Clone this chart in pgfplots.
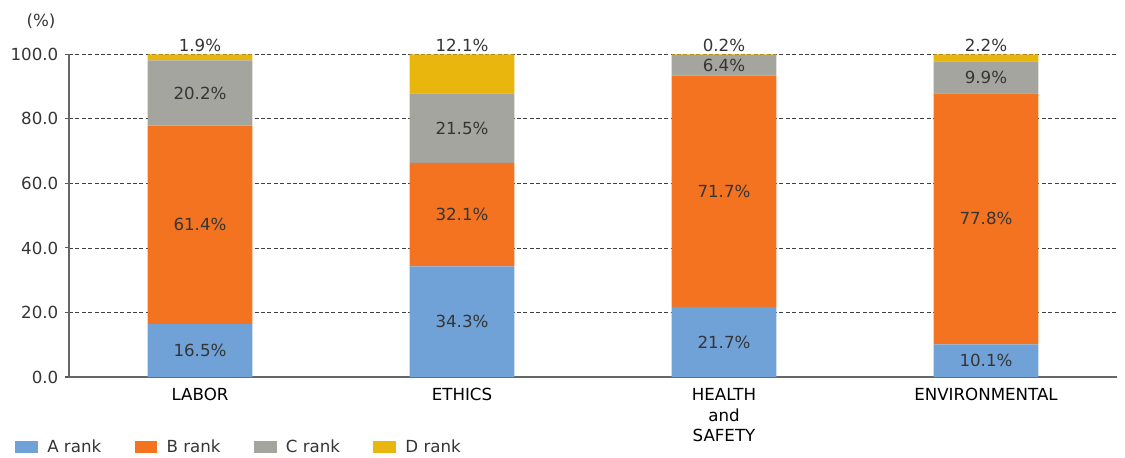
\documentclass[border=0pt]{standalone}
\usepackage{pgfplots}
\pgfplotsset{compat=1.18}
\usepackage{fontspec}
\setmainfont{DejaVu Sans}
\definecolor{cA}{HTML}{70A2D8}
\definecolor{cB}{HTML}{F37321}
\definecolor{cC}{HTML}{A5A5A0}
\definecolor{cD}{HTML}{E8B60C}
\definecolor{txt}{HTML}{353535}
\begin{document}
\begin{tikzpicture}[font=\fontsize{12.5}{15.5}\selectfont]
\begin{axis}[
  scale only axis,
  width=786pt, height=242pt,
  ybar stacked, bar width=0.4,
  xmin=-0.5, xmax=3.5, ymin=0, ymax=100,
  xtick={0,1,2,3},
  xticklabels={LABOR,ETHICS,{HEALTH\\and\\SAFETY},ENVIRONMENTAL},
  xticklabel style={align=center, text=black, yshift=-2pt},
  x tick style={draw=none},
  ytick={0,20,40,60,80,100},
  y tick style={gray!70!black, line width=0.8pt},
  tick align=outside, major tick length=3pt,
  yticklabel style={text=txt, xshift=-1.5pt},
  /pgf/number format/assume math mode=true,
  yticklabel={\pgfmathprintnumber[fixed,fixed zerofill,precision=1]{\tick}},
  ymajorgrids, grid style={black!75, dash pattern=on 3pt off 1.8pt, line width=0.6pt},
  axis x line*=bottom, axis y line*=left,
  x axis line style={gray!80!black, line width=1.4pt, -},
  y axis line style={gray!80!black, line width=1pt, -},
  legend columns=4,
  legend style={at={(0,0)}, anchor=north west, xshift=-40.5pt, yshift=-45pt,
    draw=none, fill=none, inner sep=0pt, text=txt,
    /tikz/every even column/.append style={column sep=23pt}},
  legend image code/.code={\fill[#1] (0pt,-4.5pt) rectangle (17pt,4.5pt);
    \path (22pt,0pt);},
  clip=false,
]
\addplot[fill=cA, draw=none] coordinates {(0,16.5) (1,34.3) (2,21.7) (3,10.1)};
\addplot[fill=cB, draw=none] coordinates {(0,61.4) (1,32.1) (2,71.7) (3,77.8)};
\addplot[fill=cC, draw=none] coordinates {(0,20.2) (1,21.5) (2,6.4) (3,9.9)};
\addplot[fill=cD, draw=none] coordinates {(0,1.9) (1,12.1) (2,0.2) (3,2.2)};
\legend{A rank, B rank, C rank, D rank}
\end{axis}
\begin{axis}[
  scale only axis,
  width=786pt, height=242pt,
  xmin=-0.5, xmax=3.5, ymin=0, ymax=100,
  hide axis, clip=false,
]
\addplot[draw=none, mark=none, nodes near coords={\pgfplotspointmeta\%},
  point meta=explicit symbolic,
  every node near coord/.append style={anchor=center, text=txt}]
  table[meta=lab] {
x y lab
0 8.25 16.5
1 17.15 34.3
2 10.85 21.7
3 5.05 10.1
0 47.2 61.4
1 50.45 32.1
2 57.55 71.7
3 49.0 77.8
0 88.0 20.2
1 77.15 21.5
2 96.6 6.4
3 92.85 9.9
};
\addplot[draw=none, mark=none, nodes near coords={\pgfplotspointmeta\%},
  point meta=explicit symbolic,
  every node near coord/.append style={anchor=south, text=txt, inner sep=0pt, yshift=2pt}]
  table[meta=lab] {
x y lab
0 100 1.9
1 100 12.1
2 100 0.2
3 100 2.2
};
\node[text=txt] at (rel axis cs:0,1) [xshift=-21pt, yshift=25pt] {(\%)};
\path (rel axis cs:0,0) ++(-51.75pt,-58.5pt) rectangle ++(843.75pt,341.25pt);
\end{axis}
\end{tikzpicture}
\end{document}
